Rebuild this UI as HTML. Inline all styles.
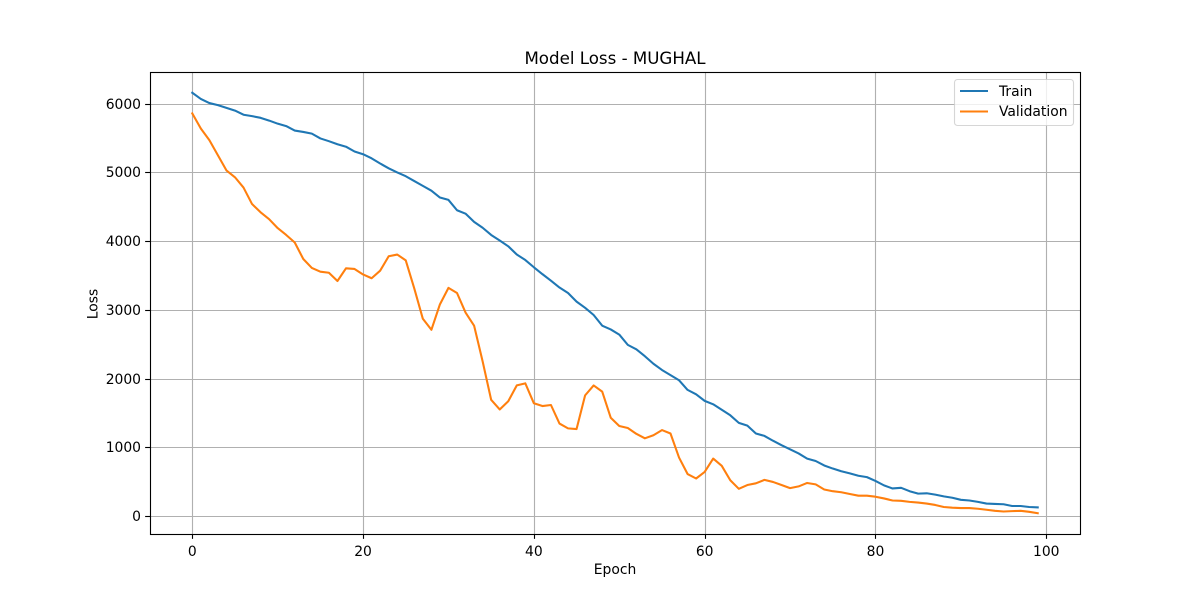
<!DOCTYPE html>
<html lang="en">
<head>
<meta charset="utf-8">
<title>Model Loss - MUGHAL</title>
<style>
html,body{margin:0;padding:0;background:#fff;}
svg{display:block;}
text{font-family:"DejaVu Sans",sans-serif;fill:#000;}
</style>
</head>
<body>
<svg id="chart" xmlns="http://www.w3.org/2000/svg" width="1200" height="600" viewBox="0 0 1200 600">
  <rect x="0" y="0" width="1200" height="600" fill="#fff"/>
  <g id="grid"></g>
  <g id="series"></g>
  <rect x="150.5" y="72.5" width="930" height="462" fill="none" stroke="#000" stroke-width="1.11"/>
  <g id="ticks"></g>
  <text x="615" y="64" font-size="16.67" text-anchor="middle">Model Loss - MUGHAL</text>
  <text x="615" y="574" font-size="13.89" text-anchor="middle">Epoch</text>
  <text x="0" y="0" font-size="13.89" text-anchor="middle" transform="translate(97.5 304) rotate(-90)">Loss</text>
  <g>
    <rect x="954.5" y="79.5" width="119" height="46" rx="3" ry="3" fill="#fff" fill-opacity="0.8" stroke="#ccc" stroke-opacity="0.8" stroke-width="1.11"/>
    <line x1="960" y1="91" x2="988" y2="91" stroke="#1f77b4" stroke-width="2.08"/>
    <text x="999" y="96" font-size="13.89">Train</text>
    <line x1="960" y1="111.5" x2="988" y2="111.5" stroke="#ff7f0e" stroke-width="2.08"/>
    <text x="999" y="116" font-size="13.89">Validation</text>
  </g>
</svg>
<script>
var xTicks = [0, 20, 40, 60, 80, 100];
var yTicks = [0, 1000, 2000, 3000, 4000, 5000, 6000];
var trainLoss = [6160,6070,6010,5980,5940,5900,5840,5820,5795,5755,5710,5675,5610,5590,5565,5495,5455,5410,5375,5305,5265,5205,5130,5060,5000,4945,4875,4805,4735,4635,4600,4450,4400,4280,4195,4090,4010,3925,3805,3725,3620,3520,3425,3325,3245,3120,3030,2925,2770,2715,2640,2490,2425,2325,2215,2125,2050,1975,1835,1770,1675,1625,1545,1465,1355,1315,1200,1165,1095,1030,970,910,835,800,735,690,650,620,585,565,510,445,400,410,360,325,330,310,285,265,235,225,205,180,175,170,145,145,130,125];
var validationLoss = [5860,5640,5470,5250,5030,4930,4780,4540,4420,4320,4190,4090,3980,3740,3610,3555,3540,3420,3605,3595,3515,3460,3570,3780,3805,3720,3310,2870,2710,3080,3320,3245,2960,2770,2250,1690,1550,1670,1900,1930,1640,1600,1615,1345,1275,1265,1755,1900,1810,1430,1310,1280,1195,1130,1175,1250,1200,850,610,545,640,835,730,520,395,450,475,525,495,450,405,430,480,460,385,360,345,320,295,295,280,255,225,220,205,195,180,160,130,120,115,115,105,90,75,65,70,75,60,40];

var NS = 'http://www.w3.org/2000/svg';
var plotLeft = 150, plotRight = 1080, plotTop = 72, plotBottom = 534;
function xScale(v) { return 192.27 + v * 8.5399; }
function yScale(v) { return 515.95 - v * 0.0687; }
function make(tag, attrs, parent) {
  var el = document.createElementNS(NS, tag);
  for (var k in attrs) el.setAttribute(k, attrs[k]);
  parent.appendChild(el);
  return el;
}
var gridG = document.getElementById('grid');
var ticksG = document.getElementById('ticks');
var seriesG = document.getElementById('series');

xTicks.forEach(function (t) {
  var x = Math.round(xScale(t)) + 0.5;
  var g = make('line', {x1: x, y1: plotTop, x2: x, y2: plotBottom, stroke: '#b0b0b0', 'stroke-width': 1.11}, gridG);
  
  
  var m = make('line', {x1: x, y1: plotBottom, x2: x, y2: plotBottom + 4.86, stroke: '#000', 'stroke-width': 1.11}, ticksG);
  
  
  var l = make('text', {x: xScale(t), y: 556, 'font-size': 13.89, 'text-anchor': 'middle'}, ticksG);
  
  
  l.textContent = t;
});
yTicks.forEach(function (t) {
  var y = Math.round(yScale(t)) + 0.5;
  var g = make('line', {x1: plotLeft, y1: y, x2: plotRight, y2: y, stroke: '#b0b0b0', 'stroke-width': 1.11}, gridG);
  
  
  var m = make('line', {x1: plotLeft - 4.86, y1: y, x2: plotLeft, y2: y, stroke: '#000', 'stroke-width': 1.11}, ticksG);
  
  
  var l = make('text', {x: 141, y: y + 4.7, 'font-size': 13.89, 'text-anchor': 'end'}, ticksG);
  
  
  l.textContent = t;
});
function points(values) {
  return values.map(function (v, i) {
    return xScale(i).toFixed(2) + ',' + yScale(v).toFixed(2);
  }).join(' ');
}
var trainLine = make('polyline', {points: points(trainLoss), fill: 'none', stroke: '#1f77b4', 'stroke-width': 2.08, 'stroke-linejoin': 'round', 'stroke-linecap': 'square'}, seriesG);


var validationLine = make('polyline', {points: points(validationLoss), fill: 'none', stroke: '#ff7f0e', 'stroke-width': 2.08, 'stroke-linejoin': 'round', 'stroke-linecap': 'square'}, seriesG);


</script>
</body>
</html>
